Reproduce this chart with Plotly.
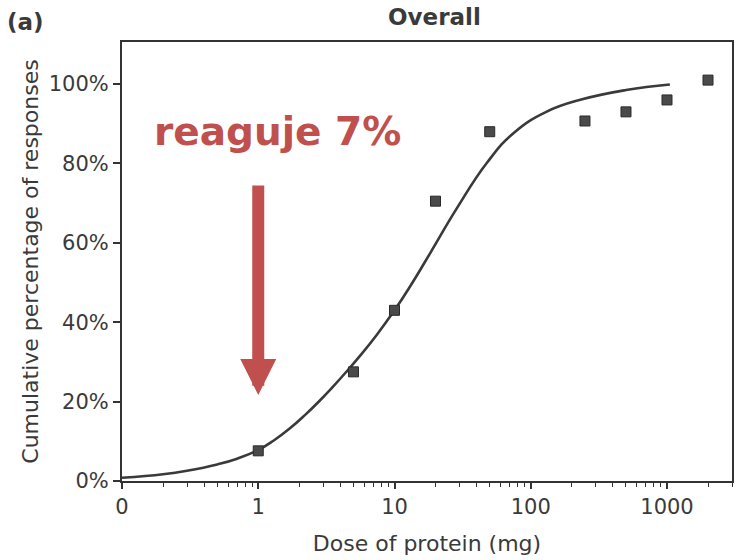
import plotly.graph_objects as go
import math

# Observed data points (dose in mg, cumulative % responding)
dose_points = [1, 5, 10, 20, 50, 250, 500, 1000, 2000]
pct_points = [7.6, 27.5, 43, 70.5, 88, 90.7, 93, 96, 101]

# Fitted curve
curve_dose = [0.1, 0.2, 0.3, 0.5, 0.7, 1, 1.3, 1.7, 2.2, 2.8, 3.5, 4.4, 5.7,
              7.4, 10, 12.9, 18.2, 28.8, 48, 75, 130, 235, 500, 1050]
curve_pct = [0.82, 1.72, 2.6, 4.17, 5.63, 7.8, 10.2, 13.2, 16.6, 20.1, 23.6, 27.4,
             31.9, 36.8, 43, 48.8, 57.3, 68.8, 80.3, 87.7, 93, 96.1, 98.5, 99.9]

x_tickvals = [0.1, 1, 10, 100, 1000]
x_ticktext = ["0", "1", "10", "100", "1000"]
y_tickvals = [0, 20, 40, 60, 80, 100]
y_ticktext = ["0%", "20%", "40%", "60%", "80%", "100%"]
minor_mult = [2, 3, 4, 5, 6, 7, 8, 9]
decades = [0.1, 1, 10, 100, 1000]

RED = "#C0504D"
INK = "#333333"
TXT = "#3a3a3a"
FONT = "DejaVu Sans"

W, H = 736, 560
PLOT_W, PLOT_H = 610, 439
minor_vals = [m * d for d in decades for m in minor_mult if m * d <= 3000]

fig = go.Figure()
fig.add_trace(go.Scatter(
    x=curve_dose, y=curve_pct, mode="lines",
    line=dict(color="#3a3a3a", width=2.6, shape="spline", smoothing=1.3),
    hoverinfo="skip", showlegend=False))
fig.add_trace(go.Scatter(
    x=dose_points, y=pct_points, mode="markers",
    marker=dict(symbol="square", size=10, color="#4a4a4a",
                line=dict(color="#2a2a2a", width=1)),
    showlegend=False))

fig.update_layout(
    width=W, height=H,
    margin=dict(l=122, r=4, t=42, b=79),
    paper_bgcolor="white", plot_bgcolor="white",
    font=dict(family=FONT, color=INK, size=21),
    xaxis=dict(type="log", range=[-1, math.log10(3000)], automargin=False,
               tickvals=x_tickvals, ticktext=x_ticktext,
               ticks="outside", ticklen=6, tickwidth=1.5, tickcolor=INK,
               minor=dict(tickvals=minor_vals, ticks="outside", ticklen=4,
                          tickwidth=1.2, tickcolor=INK, showgrid=False),
               showline=True, linecolor=INK, linewidth=2, mirror=True,
               showgrid=False, zeroline=False,
               tickfont=dict(size=21, color=TXT),
               title=dict(text="Dose of protein (mg)", standoff=17,
                          font=dict(size=22, color=TXT))),
    yaxis=dict(range=[0, 110.6], automargin=False,
               tickvals=y_tickvals, ticktext=y_ticktext,
               ticks="outside", ticklen=7, tickwidth=1.5, tickcolor=INK,
               showline=True, linecolor=INK, linewidth=2, mirror=True,
               showgrid=False, zeroline=False,
               tickfont=dict(size=21, color=TXT),
               title=dict(text="Cumulative percentage of responses", standoff=4,
                          font=dict(size=22, color=TXT))),
)

# chart title
fig.add_annotation(text="<b>Overall</b>", xref="paper", yref="paper",
                   x=(435 - 122) / PLOT_W, y=1 + (42 - 17) / PLOT_H,
                   xanchor="center", yanchor="middle", showarrow=False,
                   font=dict(family=FONT, size=23, color=TXT))

# panel label
fig.add_annotation(text="<b>(a)</b>", xref="paper", yref="paper",
                   x=(26 - 122) / PLOT_W, y=1 + (42 - 22) / PLOT_H,
                   xanchor="center", yanchor="middle", showarrow=False,
                   font=dict(family=FONT, size=23, color=TXT))

# red callout text
fig.add_annotation(text="<b>reaguje 7%</b>", x=math.log10(0.1) + (277 - 122) / 136.25,
                   y=(481 - 131) / 3.97, xanchor="center", yanchor="middle",
                   showarrow=False, font=dict(family=FONT, size=39, color=RED))

# red arrow pointing at dose 1
fig.add_annotation(x=0, y=(481 - 395) / 3.97, ax=0, ay=-211,
                   axref="pixel", ayref="pixel", text="", showarrow=True,
                   arrowhead=2, arrowsize=0.6, arrowwidth=12, arrowcolor=RED,
                   standoff=0)

# remove the browser's default 8px page margin so the figure fills the window
fig.write_html("out.html", config={"displayModeBar": False},
               post_script="document.body.style.margin='0';")
